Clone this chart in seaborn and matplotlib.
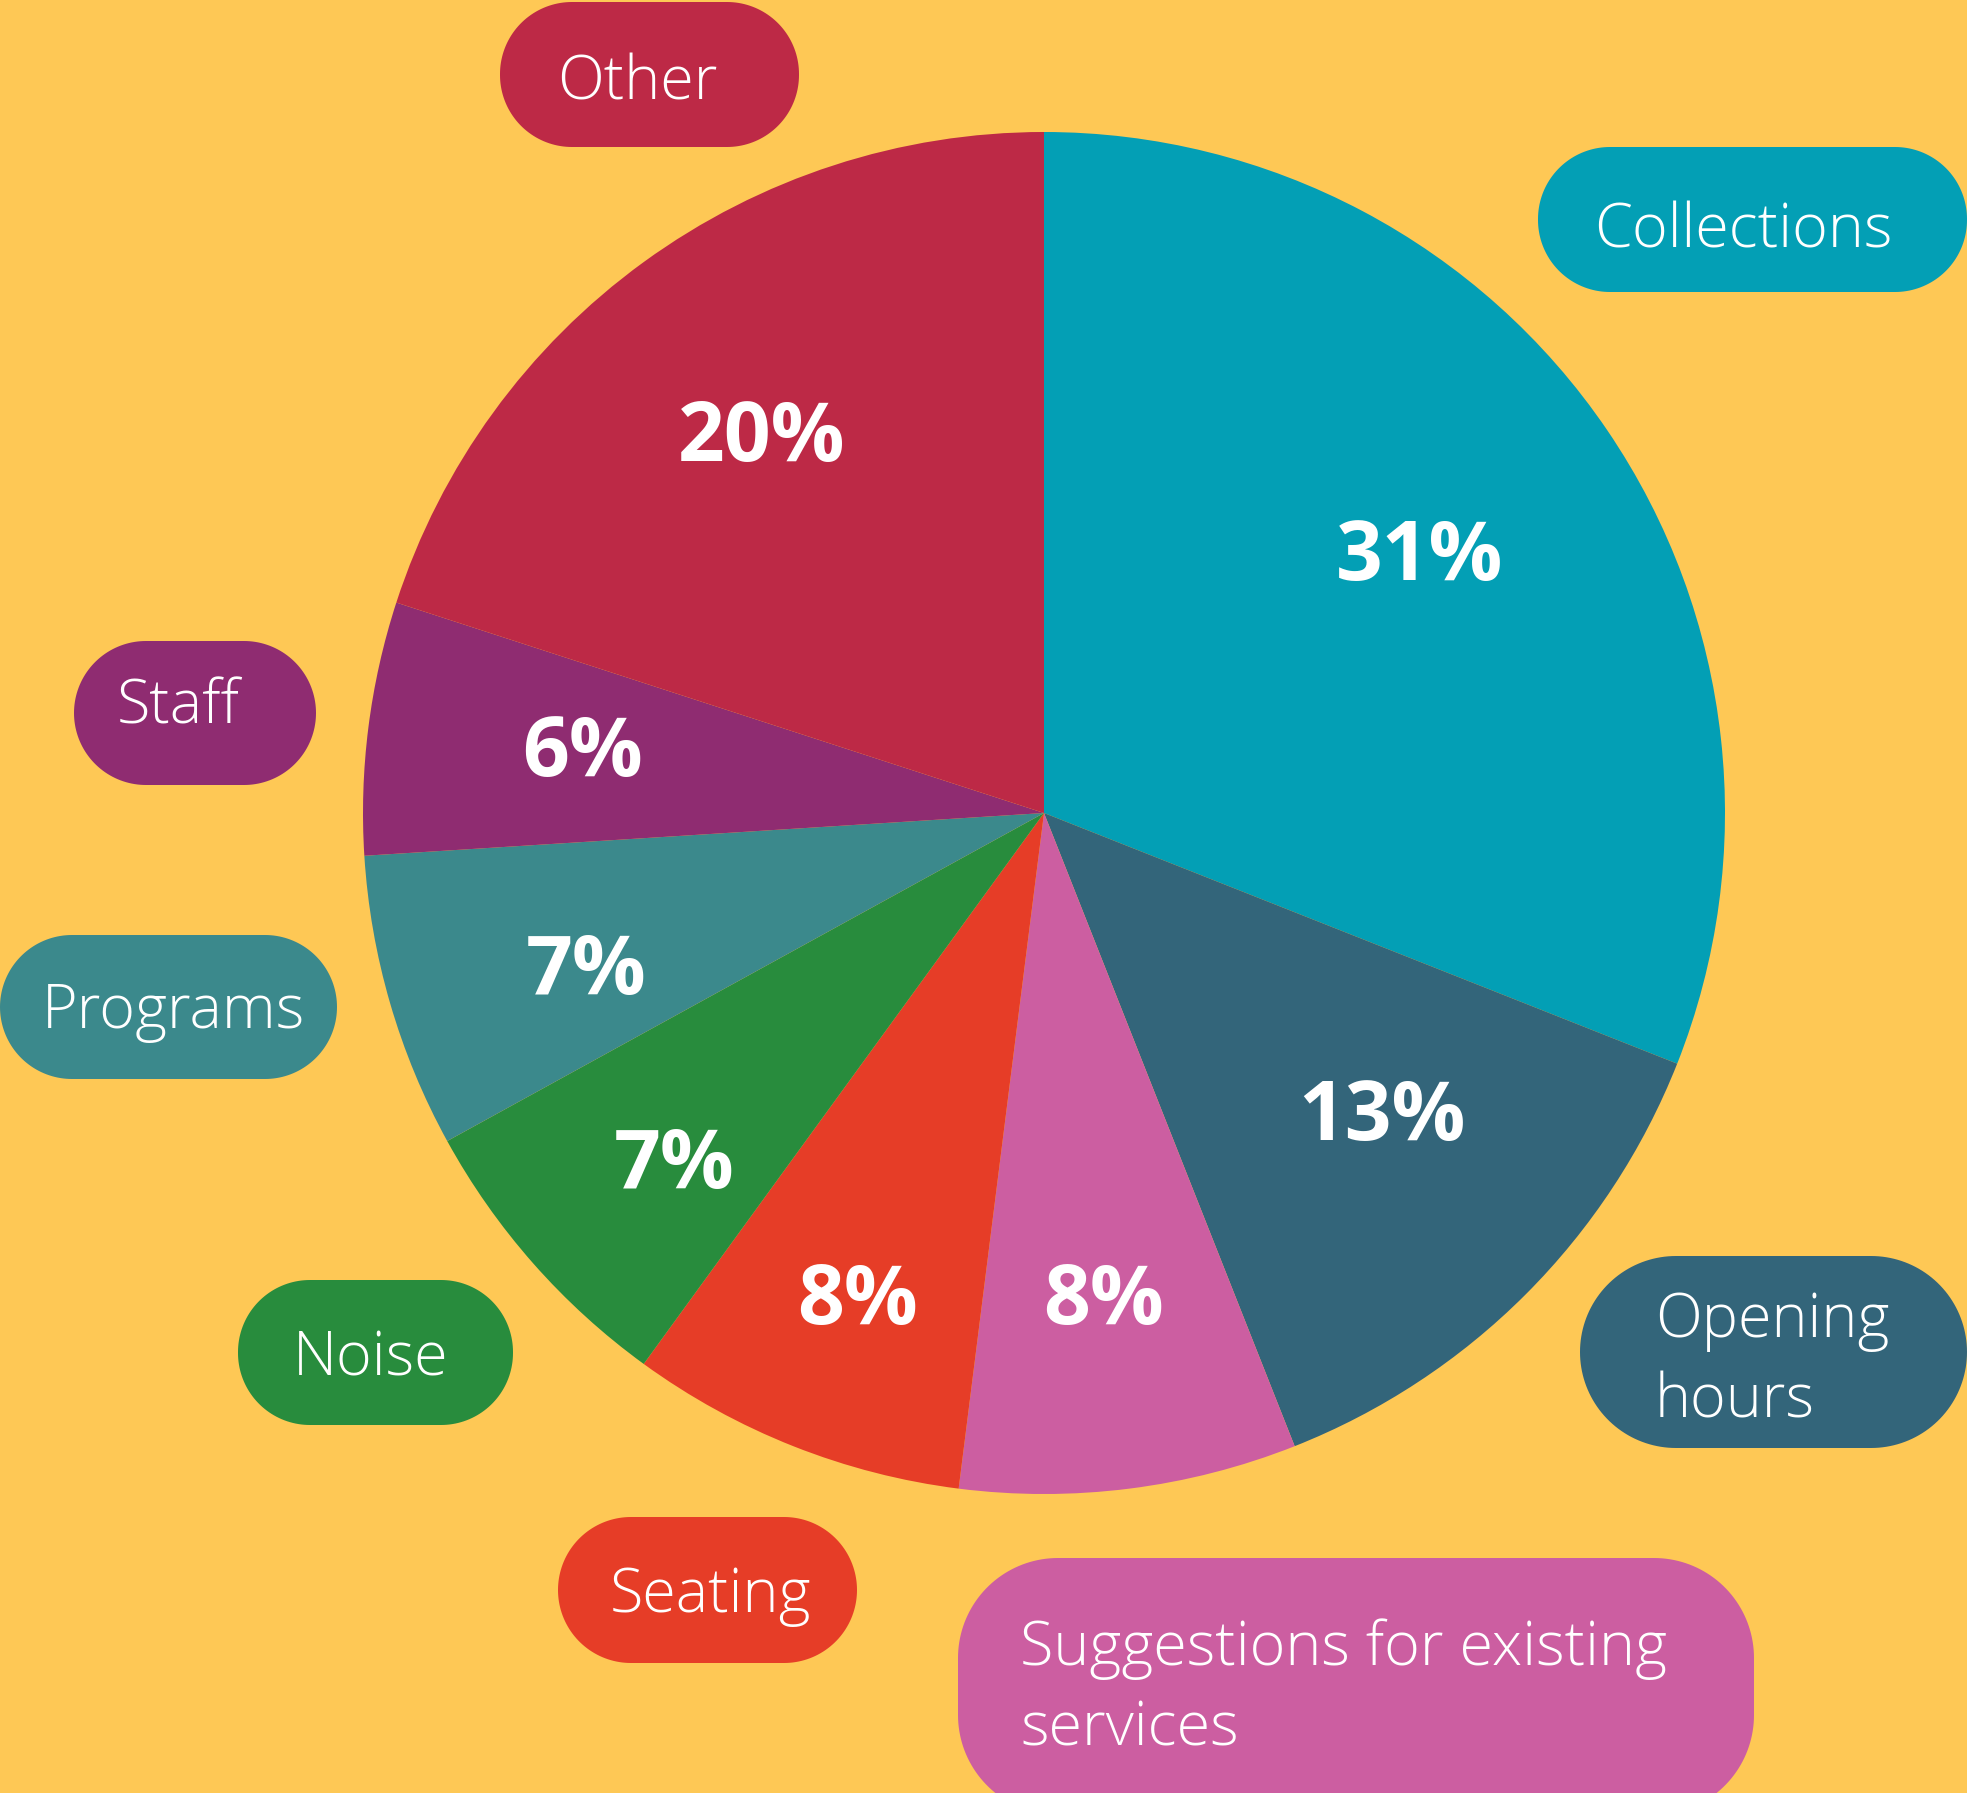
import numpy as np
import matplotlib.pyplot as plt
from matplotlib.patches import Polygon
import seaborn as sns

# survey answers, clockwise from 12 o'clock
categories = ["Collections", "Opening hours", "Suggestions for existing services",
              "Seating", "Noise", "Programs", "Staff", "Other"]
shares = [31, 13, 8, 8, 7, 7, 6, 20]
label_lines = [["Collections"], ["Opening", "hours"],
               ["Suggestions for existing", "services"], ["Seating"],
               ["Noise"], ["Programs"], ["Staff"], ["Other"]]
colors = ["#039fb5", "#33657a", "#cc5ea1", "#e63d27",
          "#288c3d", "#3b898c", "#8f2c71", "#bd2946"]

BG = "#fec855"
W, H = 1967, 1793


def rounded_box(x0, y0, x1, y1, r, n=40):
    ''' polygon of a box with circular corners (pixel coords, y upward) '''
    pts = []
    corners = [(x1 - r, y1 - r, 0), (x0 + r, y1 - r, 90),
               (x0 + r, y0 + r, 180), (x1 - r, y0 + r, 270)]
    for ccx, ccy, a0 in corners:
        t = np.deg2rad(np.linspace(a0, a0 + 90, n))
        pts.extend(zip(ccx + r * np.cos(t), ccy + r * np.sin(t)))
    return np.array(pts)


sns.set_theme(style="white")
plt.rcParams["font.family"] = ["Open Sans", "DejaVu Sans"]
palette = sns.color_palette(colors)

fig = plt.figure(figsize=(W / 100, H / 100), dpi=100, facecolor=BG)
ax = fig.add_axes([0, 0, 1, 1])
ax.set_facecolor(BG)

# pie geometry in pixel units (y measured upward)
cx, cy, R = 1044, H - 813, 681
wedges, _ = ax.pie(shares, colors=palette, startangle=90, counterclock=False,
                   center=(cx, cy), radius=R,
                   wedgeprops=dict(linewidth=0.6, edgecolor="none", antialiased=True))

# percentage labels: radial position and small angle nudges per slice
pct_r = [0.672, 0.662, 0.713, 0.759, 0.744, 0.708, 0.685, 0.696]
pct_dang = [0.7, 3.6, -0.2, 0.5, 1.7, 2.2, -0.9, 0.5]
for w, v, rr, da in zip(wedges, shares, pct_r, pct_dang):
    a = np.deg2rad((w.theta1 + w.theta2) / 2 + da)
    x = cx + rr * R * np.cos(a)
    y = cy + rr * R * np.sin(a)
    ax.text(x, y - 29, f"{v}%", ha="center", va="baseline", color="white",
            fontsize=59, fontweight="bold")

# pill shaped category tags: (left, top, right, bottom) in pixels, text x, first baseline
pills = [(1538, 147, 1967, 292, 1594, 247),
         (1580, 1256, 1967, 1448, 1655, 1337),
         (958, 1558, 1754, 1815, 1020, 1665),
         (558, 1517, 857, 1663, 610, 1612),
         (238, 1280, 513, 1425, 293, 1375),
         (0, 935, 337, 1079, 42, 1028),
         (74, 641, 316, 785, 117, 723),
         (500, 2, 799, 147, 557, 100)]
round_r = [72, 96, 100, 73, 72, 72, 72, 72]
for (x0, y0, x1, y1, tx, ty), lines, c, rr in zip(pills, label_lines, palette, round_r):
    verts = rounded_box(x0, H - y1, x1, H - y0, rr)
    ax.add_patch(Polygon(verts, closed=True, facecolor=c, edgecolor="none"))
    for k, line in enumerate(lines):
        ax.text(tx, H - (ty + k * 81), line, ha="left", va="baseline",
                color="white", fontsize=44, fontweight="light")

ax.set_xlim(0, W)
ax.set_ylim(0, H)
ax.set_aspect("equal")
ax.axis("off")

fig.savefig("out.png", dpi=100, facecolor=BG)
